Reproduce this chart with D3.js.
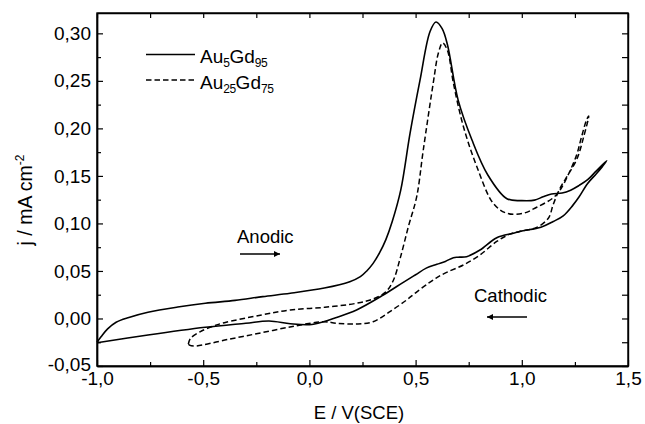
<!DOCTYPE html>
<html>
<head>
<meta charset="utf-8">
<script src="https://cdn.jsdelivr.net/npm/d3@7"></script>
<style>
  html, body { margin: 0; padding: 0; background: #fff; }
  svg { display: block; font-family: "Liberation Sans", Arial, sans-serif; }
</style>
</head>
<body>
<svg id="chart" width="645" height="424"></svg>
<script>
// ---- Data ----
// Au5Gd95, anodic sweep
const au5AnodicE = [-1.00,-0.98,-0.95,-0.91,-0.85,-0.76,-0.62,-0.49,-0.35,-0.22,-0.09,0.07,0.19,0.24,0.27,0.30,0.33,0.36,0.39,0.43,0.474,0.521,0.568,0.596,0.625,0.65,0.70,0.765,0.84,0.93,1.00,1.06,1.10,1.14,1.19,1.23,1.27,1.31,1.35,1.40];
const au5AnodicJ = [-0.025,-0.019,-0.011,-0.004,0.001,0.0065,0.012,0.016,0.019,0.023,0.0265,0.032,0.0387,0.044,0.050,0.058,0.069,0.083,0.102,0.135,0.195,0.251,0.302,0.312,0.305,0.288,0.230,0.188,0.151,0.126,0.124,0.1245,0.128,0.131,0.132,0.135,0.140,0.146,0.155,0.166];
// Au5Gd95, cathodic sweep
const au5CathodicE = [1.40,1.38,1.35,1.31,1.27,1.24,1.195,1.148,1.09,1.00,0.96,0.882,0.803,0.74,0.70,0.678,0.64,0.60,0.55,0.50,0.442,0.348,0.222,0.12,0.066,0.0,-0.09,-0.19,-0.30,-0.49,-0.76,-1.00];
const au5CathodicJ = [0.166,0.160,0.152,0.142,0.128,0.119,0.108,0.102,0.096,0.092,0.0897,0.085,0.072,0.065,0.0645,0.064,0.060,0.057,0.053,0.046,0.038,0.0247,0.009,0.0005,-0.0034,-0.0065,-0.0055,-0.0026,-0.005,-0.0093,-0.0174,-0.0255];
// Au25Gd75, anodic sweep
const au25AnodicE = [-0.57,-0.56,-0.515,-0.452,-0.40,-0.225,-0.09,0.073,0.222,0.30,0.36,0.395,0.427,0.466,0.505,0.536,0.583,0.607,0.627,0.65,0.678,0.725,0.788,0.866,0.929,1.007,1.07,1.148,1.18,1.22,1.258,1.28,1.305,1.315];
const au25AnodicJ = [-0.027,-0.021,-0.014,-0.008,-0.0044,0.0037,0.009,0.0118,0.016,0.0205,0.028,0.040,0.063,0.0966,0.128,0.177,0.2476,0.279,0.290,0.282,0.2476,0.202,0.160,0.121,0.1107,0.1107,0.117,0.127,0.135,0.152,0.172,0.190,0.209,0.213];
// Au25Gd75, cathodic sweep
const au25CathodicE = [1.315,1.29,1.26,1.22,1.18,1.148,1.125,1.07,1.00,0.944,0.882,0.803,0.725,0.646,0.60,0.56,0.50,0.458,0.379,0.30,0.222,0.128,0.066,-0.068,-0.225,-0.382,-0.539,-0.565,-0.57];
const au25CathodicJ = [0.213,0.190,0.168,0.152,0.137,0.120,0.1055,0.0958,0.092,0.0887,0.081,0.0668,0.0563,0.0485,0.043,0.037,0.027,0.0195,0.0072,-0.0034,-0.0058,-0.005,-0.0034,-0.0079,-0.015,-0.022,-0.029,-0.028,-0.027];

const xMajorTicks = [-1.0,-0.5,0.0,0.5,1.0,1.5];
const xMinorTicks = [-0.75,-0.25,0.25,0.75,1.25];
const yMajorTicks = [-0.05,0.00,0.05,0.10,0.15,0.20,0.25,0.30];
const yMinorTicks = [-0.025,0.025,0.075,0.125,0.175,0.225,0.275];

const seriesNames = ["Au5Gd95","Au25Gd75"];

(function () {
const W = 645, H = 424;
const margin = {left: 97, right: 17, top: 13, bottom: 58};
const svg = d3.select("#chart");
const x = d3.scaleLinear().domain([-1.0, 1.5]).range([margin.left, W - margin.right]);
const y = d3.scaleLinear().domain([-0.05, 0.3214]).range([H - margin.bottom, margin.top]);

const commaFmt = (f) => (v) => d3.format(f)(v).replace("−", "-").replace(".", ",");
const FS = 19;

function styleAxis(g) {
  g.selectAll(".domain").attr("stroke", "#000").attr("stroke-width", 1.4);
  g.selectAll(".tick line").attr("stroke", "#000").attr("stroke-width", 1.2);
  g.selectAll("text").attr("fill", "#000").style("font-size", FS + "px").style("font-family", "'Liberation Sans', Arial, sans-serif");
}
const gBottom = svg.append("g").attr("transform", `translate(0,${y.range()[0]})`)
  .call(d3.axisBottom(x).tickValues(xMajorTicks).tickFormat(commaFmt(".1f")).tickSizeInner(-6).tickSizeOuter(0).tickPadding(6));
styleAxis(gBottom);
const gBottomMinor = svg.append("g").attr("transform", `translate(0,${y.range()[0]})`)
  .call(d3.axisBottom(x).tickValues(xMinorTicks).tickFormat("").tickSizeInner(-4).tickSizeOuter(0));
styleAxis(gBottomMinor);
const gTop = svg.append("g").attr("transform", `translate(0,${y.range()[1]})`)
  .call(d3.axisTop(x).tickValues(xMajorTicks.concat(xMinorTicks)).tickFormat("").tickSizeInner(-5).tickSizeOuter(0));
styleAxis(gTop);

const gLeft = svg.append("g").attr("transform", `translate(${x.range()[0]},0)`)
  .call(d3.axisLeft(y).tickValues(yMajorTicks).tickFormat(commaFmt(".2f")).tickSizeInner(-6).tickSizeOuter(0).tickPadding(6));
styleAxis(gLeft);
gLeft.selectAll(".tick text").filter(d => d === -0.05).attr("dy", "0.22em");
const gLeftMinor = svg.append("g").attr("transform", `translate(${x.range()[0]},0)`)
  .call(d3.axisLeft(y).tickValues(yMinorTicks).tickFormat("").tickSizeInner(-4).tickSizeOuter(0));
styleAxis(gLeftMinor);
const gRight = svg.append("g").attr("transform", `translate(${x.range()[1]},0)`)
  .call(d3.axisRight(y).tickValues(yMajorTicks.concat(yMinorTicks)).tickFormat("").tickSizeInner(-6).tickSizeOuter(0));
styleAxis(gRight);

svg.append("rect")
  .attr("x", x.range()[0]).attr("y", y.range()[1])
  .attr("width", x.range()[1] - x.range()[0]).attr("height", y.range()[0] - y.range()[1])
  .attr("fill", "none").attr("stroke", "#000").attr("stroke-width", 1.4);

// curves
const line = d3.line().x(d => x(d[0])).y(d => y(d[1])).curve(d3.curveCatmullRom.alpha(0.5));
const zip = (a, b) => a.map((v, i) => [v, b[i]]);
const au5 = zip(au5AnodicE, au5AnodicJ).concat(zip(au5CathodicE, au5CathodicJ).slice(1));
const au25 = zip(au25AnodicE, au25AnodicJ).concat(zip(au25CathodicE, au25CathodicJ).slice(1));

svg.append("path").datum(au5).attr("d", line)
  .attr("fill", "none").attr("stroke", "#000").attr("stroke-width", 1.6).attr("stroke-linejoin", "round");
svg.append("path").datum(au25).attr("d", line)
  .attr("fill", "none").attr("stroke", "#000").attr("stroke-width", 1.5).attr("stroke-dasharray", "5.5,3");

// axis titles
svg.append("text").attr("x", 359).attr("y", 419).attr("text-anchor", "middle")
  .style("font-size", "18.5px").text("E / V(SCE)");
const yl = svg.append("text").attr("transform", "translate(32,200) rotate(-90)").attr("text-anchor", "middle")
  .style("font-size", "19.5px");
yl.append("tspan").text("j / mA cm");
yl.append("tspan").attr("dy", -8).style("font-size", "12px").text("-2");

// legend
const legend = svg.append("g");
const legendRows = [
  {main: ["Au", "Gd"], subs: ["5", "95"], dash: null, yLine: 54.5, yText: 62.5},
  {main: ["Au", "Gd"], subs: ["25", "75"], dash: "5.5,3", yLine: 80, yText: 88.5}
];
legendRows.forEach((r, i) => {
  legend.append("line").attr("x1", 146).attr("x2", 195).attr("y1", r.yLine).attr("y2", r.yLine)
    .attr("stroke", "#000").attr("stroke-width", 1.5).attr("stroke-dasharray", r.dash);
  const t = legend.append("text").attr("x", 200).attr("y", r.yText).style("font-size", "19px")
    .attr("data-name", seriesNames[i]);
  t.append("tspan").text(r.main[0]);
  t.append("tspan").attr("dy", 4).style("font-size", "12px").attr("letter-spacing", "-0.5").text(r.subs[0]);
  t.append("tspan").attr("dy", -4).text(r.main[1]);
  t.append("tspan").attr("dy", 4).style("font-size", "12px").attr("letter-spacing", "-0.5").text(r.subs[1]);
});

// annotations
svg.append("text").attr("x", 237).attr("y", 243).style("font-size", "18.5px").text("Anodic");
svg.append("text").attr("x", 474).attr("y", 302).style("font-size", "18.5px").text("Cathodic");
svg.append("defs").append("marker").attr("id", "ah").attr("viewBox", "0 0 10 10")
  .attr("refX", 10).attr("refY", 5).attr("markerWidth", 8).attr("markerHeight", 6)
  .attr("markerUnits", "userSpaceOnUse").attr("orient", "auto")
  .append("path").attr("d", "M0,0 L10,5 L0,10 z").attr("fill", "#000");
svg.append("line").attr("x1", 240).attr("x2", 280).attr("y1", 254).attr("y2", 254)
  .attr("stroke", "#000").attr("stroke-width", 1.4).attr("marker-end", "url(#ah)");
svg.append("line").attr("x1", 527).attr("x2", 487).attr("y1", 317).attr("y2", 317)
  .attr("stroke", "#000").attr("stroke-width", 1.4).attr("marker-end", "url(#ah)");
})();
</script>
</body>
</html>
